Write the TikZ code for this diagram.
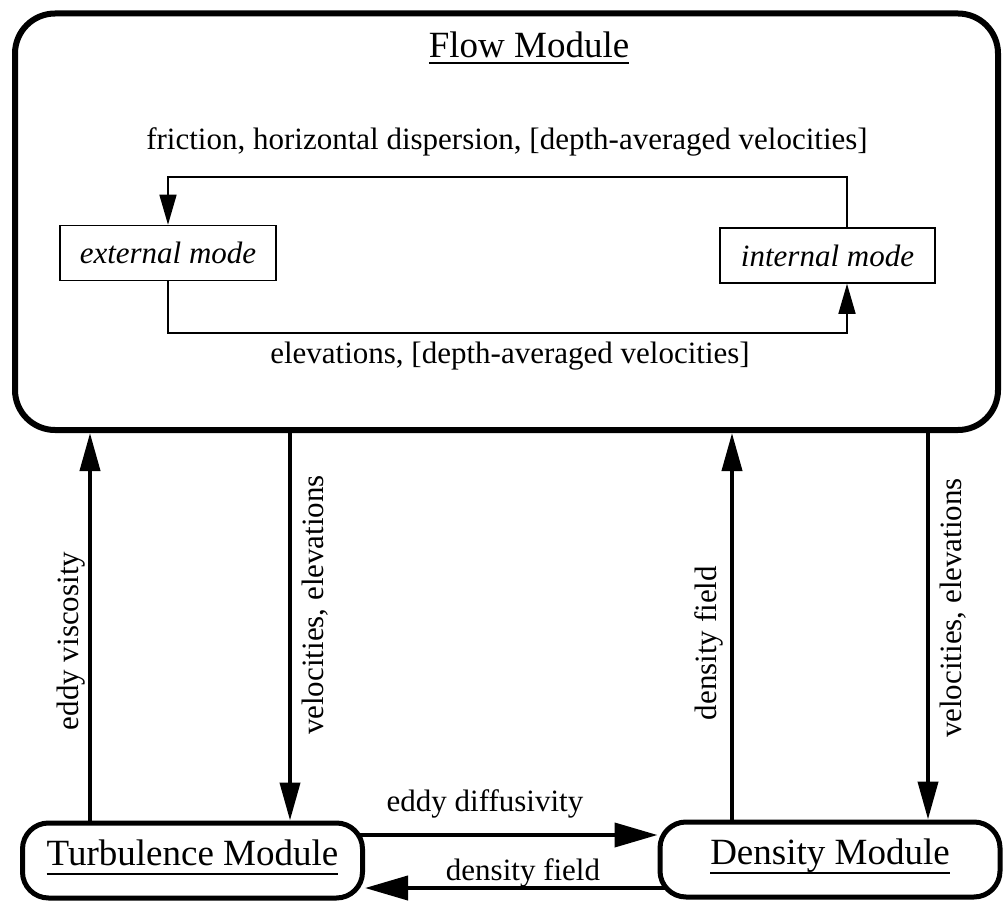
\documentclass[tikz,border=0pt]{standalone}
\usepackage{fontspec}
\setmainfont{Liberation Serif}
\usetikzlibrary{arrows.meta}
\newcommand\ulx[2]{\setbox0\hbox{#2}\rlap{\rule[-#1]{\wd0}{1.6pt}}\box0}
\begin{document}
\begin{tikzpicture}[x=1pt,y=-1pt,
  bigbox/.style={draw, line width=6pt, rounded corners=40pt, inner sep=0pt},
  modbox/.style={draw, line width=5pt, rounded corners=26pt, minimum width=340pt, minimum height=75pt, inner sep=0pt, text height=25pt, text depth=16pt, font=\fontsize{37}{40}\selectfont},
  modebox/.style={draw, line width=1.5pt, minimum height=55pt, inner sep=0pt, text height=21pt, text depth=0pt, font=\fontsize{31}{36}\selectfont\itshape},
  lbl/.style={font=\fontsize{31}{36}\selectfont, inner sep=0pt},
  thinarrow/.style={line width=1.5pt, -{Triangle[length=30pt,width=17pt]}},
  fatarrow/.style={line width=4pt, -{Triangle[length=38pt,width=20pt]}},
  sidearrow/.style={line width=4pt, -{Triangle[length=43pt,width=24pt]}},
]
\useasboundingbox (0,0) rectangle (1003,901);

% flow module
\node[bigbox, minimum width=983pt, minimum height=416.5pt] (flow) at (506.5,221.75) {};
\node[lbl, font=\fontsize{37}{40}\selectfont, anchor=base] (title) at (529,58) {\ulx{6pt}{Flow Module}};

\node[modebox, minimum width=216pt] (me) at (168,253) {external mode};
\node[modebox, minimum width=215pt] (mi) at (827.5,255.5) {internal mode};

\node[lbl, anchor=base] (fr) at (507,150) {friction, horizontal dispersion, [depth-averaged velocities]};
\node[lbl, anchor=base] (el) at (510,363) {elevations, [depth-averaged velocities]};

\draw[thinarrow] (mi.north -| 847,0) -- (847,177) -- (me.north |- 0,177) -- (me.north);
\draw[thinarrow] (me.south) -- (me.south |- 0,333) -- (847,333) -- (mi.south -| 847,0);

% bottom modules
\node[modbox] (turb) at (192.5,860.5) {\ulx{10pt}{Turbulence Module}};
\node[modbox] (dens) at (830,859.5) {\ulx{9.5pt}{Density Module}};

% vertical connectors
\draw[fatarrow] (turb.north -| 90,0) -- (flow.south -| 90,0);
\draw[fatarrow] (flow.south -| 290,0) -- (turb.north -| 290,0);
\draw[fatarrow] (dens.north -| 732,0) -- (flow.south -| 732,0);
\draw[fatarrow] (flow.south -| 928,0) -- (dens.north -| 928,0);

\node[lbl, rotate=90, anchor=base] (l1) at (78,641) {eddy viscosity};
\node[lbl, rotate=90, anchor=base] (l2) at (323,605) {velocities, elevations};
\node[lbl, rotate=90, anchor=base] (l3) at (716,643) {density field};
\node[lbl, rotate=90, anchor=base] (l4) at (961,608) {velocities, elevations};

% horizontal connectors
\draw[sidearrow] ([xshift=-6pt,yshift=25.5pt]turb.east) -- ([yshift=24.5pt]dens.west);
\draw[sidearrow] ([xshift=9pt,yshift=-28.5pt]dens.west) -- ([yshift=-27.5pt]turb.east);

\node[lbl, anchor=base] (l5) at (485,811) {eddy diffusivity};
\node[lbl, anchor=base] (l6) at (523,880) {density field};
\end{tikzpicture}
\end{document}
